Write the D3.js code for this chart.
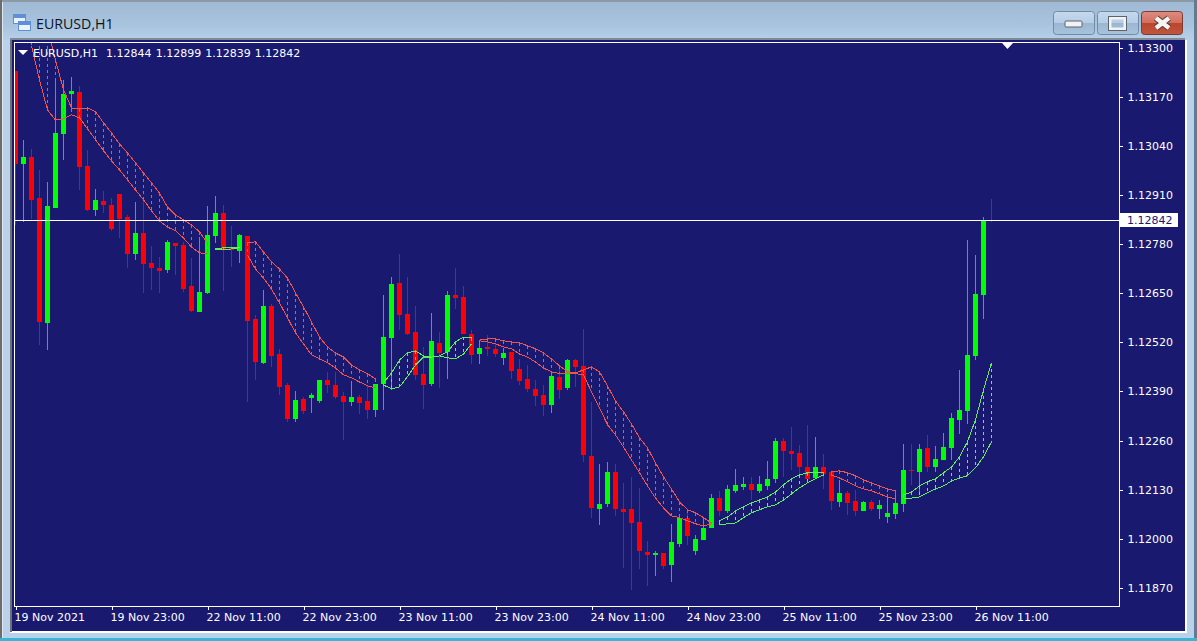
<!DOCTYPE html>
<html><head><meta charset="utf-8">
<script src="https://cdn.jsdelivr.net/npm/d3@7/dist/d3.min.js"></script>
<style>html,body{margin:0;padding:0;background:#b9d1ea;overflow:hidden}svg{display:block}</style>
</head><body><svg id="c" width="1197" height="641"></svg>
<script>
const open=[1.13238,1.12992,1.13011,1.12902,1.12571,1.12876,1.13071,1.13177,1.13183,1.12987,
1.12870,1.12894,1.12884,1.12913,1.12852,1.12754,1.12810,1.12730,1.12717,1.12712,
1.12783,1.12778,1.12669,1.12601,1.12651,1.12802,1.12862,1.12770,1.12762,1.12802,
1.12582,1.12466,1.12616,1.12489,1.12407,1.12317,1.12370,1.12373,1.12365,1.12421,
1.12407,1.12378,1.12362,1.12376,1.12365,1.12341,1.12410,1.12532,1.12677,1.12595,
1.12548,1.12437,1.12410,1.12519,1.12495,1.12645,1.12640,1.12542,1.12489,1.12508,
1.12503,1.12479,1.12495,1.12450,1.12423,1.12397,1.12381,1.12354,1.12429,1.12399,
1.12473,1.12458,1.12220,1.12079,1.12093,1.12177,1.12079,1.12079,1.12045,1.11966,
1.11958,1.11963,1.11931,1.11987,1.12056,1.11968,1.11997,1.12029,1.12108,1.12074,
1.12127,1.12138,1.12145,1.12127,1.12140,1.12159,1.12259,1.12233,1.12227,1.12190,
1.12161,1.12190,1.12177,1.12098,1.12122,1.12100,1.12074,1.12098,1.12079,1.12058,
1.12066,1.12093,1.12182,1.12177,1.12241,1.12190,1.12209,1.12241,1.12315,1.12339,
1.12484,1.12645,1.12844];
const high=[1.13238,1.13056,1.13032,1.12976,1.12944,1.13214,1.13214,1.13222,1.13198,1.13029,
1.12926,1.12921,1.12902,1.12913,1.12857,1.12892,1.12897,1.12775,1.12746,1.12791,
1.12783,1.12786,1.12743,1.12799,1.12881,1.12907,1.12884,1.12828,1.12807,1.12802,
1.12593,1.12659,1.12622,1.12503,1.12413,1.12391,1.12376,1.12386,1.12421,1.12442,
1.12442,1.12389,1.12418,1.12381,1.12405,1.12410,1.12645,1.12693,1.12754,1.12693,
1.12616,1.12508,1.12598,1.12548,1.12656,1.12717,1.12669,1.12553,1.12524,1.12540,
1.12516,1.12505,1.12495,1.12476,1.12460,1.12421,1.12407,1.12442,1.12458,1.12476,
1.12476,1.12556,1.12362,1.12198,1.12204,1.12198,1.12148,1.12164,1.12135,1.11995,
1.11968,1.11963,1.12040,1.12056,1.12079,1.12011,1.12056,1.12119,1.12127,1.12143,
1.12185,1.12164,1.12164,1.12167,1.12206,1.12267,1.12267,1.12296,1.12249,1.12302,
1.12270,1.12225,1.12177,1.12156,1.12127,1.12130,1.12100,1.12103,1.12103,1.12119,
1.12130,1.12251,1.12251,1.12251,1.12275,1.12246,1.12280,1.12333,1.12447,1.12791,
1.12751,1.12852,1.12899];
const low=[1.12831,1.12839,1.12847,1.12513,1.12500,1.12876,1.13003,1.13130,1.12923,1.12868,
1.12854,1.12862,1.12815,1.12796,1.12717,1.12738,1.12651,1.12659,1.12651,1.12704,
1.12698,1.12653,1.12601,1.12601,1.12648,1.12783,1.12656,1.12720,1.12730,1.12362,
1.12421,1.12463,1.12455,1.12381,1.12309,1.12309,1.12331,1.12333,1.12360,1.12386,
1.12370,1.12262,1.12352,1.12331,1.12317,1.12323,1.12341,1.12394,1.12553,1.12540,
1.12421,1.12344,1.12405,1.12399,1.12423,1.12608,1.12542,1.12463,1.12463,1.12484,
1.12481,1.12460,1.12423,1.12407,1.12389,1.12352,1.12325,1.12333,1.12370,1.12394,
1.12402,1.12204,1.12056,1.12037,1.12085,1.12061,1.11923,1.11865,1.11921,1.11876,
1.11902,1.11921,1.11886,1.11979,1.11984,1.11958,1.11997,1.12029,1.12061,1.12069,
1.12122,1.12130,1.12103,1.12122,1.12130,1.12148,1.12164,1.12182,1.12172,1.12151,
1.12159,1.12132,1.12077,1.12085,1.12063,1.12061,1.12074,1.12074,1.12053,1.12042,
1.12053,1.12071,1.12143,1.12116,1.12177,1.12177,1.12209,1.12209,1.12278,1.12304,
1.12473,1.12582,1.12839];
const close=[1.12992,1.13011,1.12897,1.12574,1.12881,1.13074,1.13177,1.13185,1.12984,1.12870,
1.12897,1.12884,1.12820,1.12847,1.12754,1.12810,1.12728,1.12717,1.12709,1.12786,
1.12775,1.12661,1.12603,1.12653,1.12804,1.12862,1.12765,1.12765,1.12804,1.12577,
1.12468,1.12616,1.12484,1.12402,1.12317,1.12368,1.12339,1.12381,1.12421,1.12407,
1.12376,1.12362,1.12376,1.12360,1.12341,1.12410,1.12534,1.12675,1.12593,1.12542,
1.12434,1.12407,1.12524,1.12492,1.12645,1.12638,1.12542,1.12487,1.12505,1.12503,
1.12489,1.12492,1.12444,1.12418,1.12397,1.12378,1.12354,1.12431,1.12394,1.12473,
1.12455,1.12222,1.12082,1.12093,1.12177,1.12079,1.12071,1.12042,1.11968,1.11958,
1.11963,1.11928,1.11992,1.12056,1.12008,1.12000,1.12029,1.12108,1.12074,1.12132,
1.12143,1.12145,1.12130,1.12145,1.12159,1.12259,1.12233,1.12225,1.12190,1.12159,
1.12190,1.12172,1.12100,1.12122,1.12095,1.12074,1.12098,1.12079,1.12090,1.12069,
1.12095,1.12182,1.12180,1.12238,1.12190,1.12212,1.12243,1.12320,1.12341,1.12487,
1.12648,1.12844,1.12842];

// cloud bands, one value per bar from bar index bandFirst
const bandFirst=2;
const hiBand=[1.13505,1.13431,1.13352,1.13267,1.13188,1.13140,1.13138,1.13140,1.13130,1.13101,1.13074,1.13045,1.13021,1.12995,1.12968,1.12942,1.12915,1.12878,1.12857,1.12844,1.12831,1.12812,1.12783,
1.12767,1.12770,1.12770,1.12770,
1.12783,1.12786,1.12759,1.12733,1.12714,1.12690,1.12651,1.12614,1.12574,1.12534,1.12508,1.12492,1.12481,1.12460,1.12447,1.12437,1.12423,
1.12413,1.12439,1.12473,1.12492,1.12497,1.12484,1.12481,1.12484,1.12495,1.12521,1.12534,1.12532,
1.12526,1.12529,1.12529,1.12524,1.12521,1.12519,1.12511,1.12503,1.12492,1.12476,1.12458,1.12442,1.12439,1.12447,1.12455,1.12442,1.12405,1.12365,1.12336,1.12304,1.12267,1.12241,1.12201,1.12164,1.12132,1.12098,1.12077,1.12069,1.12056,1.12042,
1.12048,1.12058,1.12074,1.12085,1.12095,1.12103,1.12111,1.12124,1.12143,1.12159,1.12169,1.12175,1.12175,1.12177,
1.12177,1.12180,1.12175,1.12167,1.12156,1.12148,1.12140,1.12132,1.12127,
1.12116,1.12124,1.12140,1.12151,1.12159,1.12175,1.12190,1.12217,1.12257,1.12315,1.12394,1.12466];
const loBand=[1.13304,1.13214,1.13135,1.13108,1.13111,1.13122,1.13114,1.13085,1.13056,1.13027,1.13000,1.12976,1.12950,1.12923,1.12897,1.12868,1.12841,1.12825,1.12815,1.12796,1.12772,1.12757,1.12754,
1.12765,1.12765,1.12767,1.12770,
1.12751,1.12714,1.12690,1.12661,1.12624,1.12585,1.12545,1.12516,1.12487,1.12476,1.12466,1.12452,1.12434,1.12426,1.12415,1.12405,1.12399,
1.12407,1.12397,1.12402,1.12429,1.12460,1.12481,1.12481,1.12484,1.12479,1.12476,1.12489,1.12516,
1.12524,1.12521,1.12516,1.12508,1.12503,1.12489,1.12481,1.12468,1.12452,1.12442,1.12437,1.12437,1.12437,1.12434,1.12389,1.12347,1.12302,1.12275,1.12243,1.12209,1.12175,1.12140,1.12108,1.12082,1.12061,1.12056,1.12048,1.12040,1.12034,1.12040,
1.12037,1.12040,1.12042,1.12056,1.12069,1.12077,1.12085,1.12090,1.12103,1.12119,1.12135,1.12148,1.12159,1.12169,
1.12169,1.12161,1.12151,1.12140,1.12132,1.12127,1.12119,1.12111,1.12106,
1.12108,1.12108,1.12111,1.12122,1.12132,1.12140,1.12153,1.12161,1.12167,1.12188,1.12217,1.12257];
const segStart=[2,25,29,46,58,88,102,111];
const segEnd=[24,28,45,57,87,101,110,122];
const segTrend=["down","up","down","up","down","up","down","up"];

const priceTicks=[1.133,1.1317,1.1304,1.1291,1.1278,1.1265,1.1252,1.1239,1.1226,1.1213,1.12,1.1187];
const timeIndex=[0,12,24,36,48,60,72,84,96,108,120];
const timeLabels=["19 Nov 2021","19 Nov 23:00","22 Nov 11:00","22 Nov 23:00","23 Nov 11:00","23 Nov 23:00","24 Nov 11:00","24 Nov 23:00","25 Nov 11:00","25 Nov 23:00","26 Nov 11:00"];
const headerText="EURUSD,H1  1.12844 1.12899 1.12839 1.12842";
const bidPrice=1.12842;
const symbol="EURUSD,H1";

const NAVY="#191970",UP="#00ff00",DOWN="#ff0000",UPB="#5fee5f",DOWNB="#f2544c";
const FONT="'DejaVu Sans',sans-serif";
const svg=d3.select("#c");
const defs=svg.append("defs");
function grad(id,stops){const g=defs.append("linearGradient").attr("id",id).attr("x1",0).attr("y1",0).attr("x2",0).attr("y2",1);
 stops.forEach(s=>g.append("stop").attr("offset",s[0]).attr("stop-color",s[1]));}
grad("win",[[0,"#9fb9d3"],[0.6,"#a8c3de"],[1,"#b7d0ea"]]);
grad("btn",[[0,"#c6d9ec"],[0.48,"#b6cde5"],[0.5,"#9bb6d2"],[1,"#a9c3dc"]]);
grad("cls",[[0,"#dd8c80"],[0.48,"#d3705f"],[0.5,"#b9452c"],[1,"#c1573e"]]);
defs.append("clipPath").attr("id","plot").append("rect").attr("x",15).attr("y",43).attr("width",1104).attr("height",563);

// window chrome
svg.append("rect").attr("width",1197).attr("height",641).attr("fill","#b9d1ea");
svg.append("rect").attr("x",0).attr("y",0).attr("width",1197).attr("height",40).attr("fill","url(#win)");
svg.append("rect").attr("x",0).attr("y",0).attr("width",1197).attr("height",2).attr("fill","#8d9aa6");
svg.append("rect").attr("x",0).attr("y",0).attr("width",2).attr("height",641).attr("fill","#6d6d6d");
svg.append("rect").attr("x",2).attr("y",2).attr("width",1).attr("height",639).attr("fill","#dfe9f3");
svg.append("rect").attr("x",1194).attr("y",0).attr("width",3).attr("height",641).attr("fill","#5c7d96");
svg.append("rect").attr("x",0).attr("y",638).attr("width",1197).attr("height",3).attr("fill","#38b6d6");
svg.append("rect").attr("x",10).attr("y",38).attr("width",1175).attr("height",2).attr("fill","#808a94");
svg.append("rect").attr("x",1185).attr("y",40).attr("width",2).attr("height",592).attr("fill","#ffffff");
svg.append("rect").attr("x",10).attr("y",631).attr("width",1177).attr("height",2).attr("fill","#ffffff");
svg.append("rect").attr("x",10).attr("y",40).attr("width",2).attr("height",592).attr("fill","#707070");
svg.append("rect").attr("x",12).attr("y",40).attr("width",1173).attr("height",591).attr("fill",NAVY);

// title icon and text
const ic=svg.append("g").attr("shape-rendering","crispEdges");
[[13.5,14.5],[18.5,21.5]].forEach(p=>{
 ic.append("rect").attr("x",p[0]).attr("y",p[1]).attr("width",12).attr("height",9).attr("fill","#eaf2fb").attr("stroke","#5e8fd8");
 ic.append("rect").attr("x",p[0]).attr("y",p[1]).attr("width",12).attr("height",3).attr("fill","#5e8fd8");
});
svg.append("text").attr("x",36).attr("y",29).attr("font-family","'Open Sans',sans-serif").attr("font-size",14.2).attr("fill","#10141a").text(symbol);

// window buttons
[[1053,"btn"],[1097,"btn"],[1141,"cls"]].forEach(b=>{
 svg.append("rect").attr("x",b[0]+.5).attr("y",11.5).attr("width",41).attr("height",23).attr("rx",3).attr("fill","url(#"+b[1]+")").attr("stroke",b[1]=="cls"?"#7d3a30":"#6f8ba6");
});
svg.append("rect").attr("x",1065).attr("y",21).attr("width",17).attr("height",6).attr("rx",1).attr("fill","#f2f2f2").attr("stroke","#5a6470");
svg.append("rect").attr("x",1110).attr("y",18).attr("width",15).attr("height",11).attr("fill","none").attr("stroke","#f2f2f2").attr("stroke-width",3);
svg.append("rect").attr("x",1108.5).attr("y",16.5).attr("width",18).attr("height",14).attr("fill","none").attr("stroke","#5a6470");
svg.append("path").attr("d","M1156 18L1169 28M1169 18L1156 28").attr("stroke","#5a3a34").attr("stroke-width",6.5);
svg.append("path").attr("d","M1156 18L1169 28M1169 18L1156 28").attr("stroke","#f4f4f4").attr("stroke-width",4.5);

// scales
const x=d3.scaleLinear().domain([0,122]).range([15.5,991.5]);
const y=d3.scaleLinear().domain([1.1187,1.133]).range([588,47.5]);
const py=v=>Math.round(y(v));
const bars=d3.range(open.length);
const isUp=i=>close[i]>=open[i];

const plot=svg.append("g").attr("clip-path","url(#plot)");
const candles=plot.append("g").attr("shape-rendering","crispEdges");
candles.selectAll("line").data(bars).join("line")
 .attr("x1",x).attr("x2",x).attr("y1",i=>py(high[i])).attr("y2",i=>py(low[i]))
 .attr("stroke",i=>isUp(i)?UP:DOWN).attr("stroke-width",1).attr("stroke-opacity",.85);
candles.selectAll("rect").data(bars).join("rect")
 .attr("x",i=>x(i)-2.5).attr("width",5)
 .attr("y",i=>py(Math.max(open[i],close[i])))
 .attr("height",i=>Math.max(1,py(Math.min(open[i],close[i]))-py(Math.max(open[i],close[i]))))
 .attr("fill",i=>isUp(i)?UP:DOWN);

// bands on top of the candles
const hi=i=>hiBand[i-bandFirst],lo=i=>loBand[i-bandFirst];
const line=f=>d3.line().x(x).y(i=>y(f(i)));
segStart.forEach((s,k)=>{
 const idx=d3.range(s,segEnd[k]+1),col=segTrend[k]==="up"?UPB:DOWNB;
 const g=plot.append("g").attr("fill","none").attr("stroke",col).attr("stroke-width",1).attr("shape-rendering","crispEdges");
 g.append("path").attr("d",line(hi)(idx));
 g.append("path").attr("d",line(lo)(idx));
 g.append("g").selectAll("line").data(idx).join("line")
  .attr("x1",x).attr("x2",x).attr("y1",i=>py(hi(i))).attr("y2",i=>py(lo(i))).attr("stroke-dasharray","3 3");
});

// bid line
const bidY=Math.floor(y(bidPrice))+.5;
svg.append("line").attr("x1",15).attr("x2",1119).attr("y1",bidY).attr("y2",bidY)
 .attr("stroke","#fff").attr("shape-rendering","crispEdges");

// frame
svg.append("rect").attr("x",14.5).attr("y",42.5).attr("width",1105).attr("height",564).attr("fill","none").attr("stroke","#fff").attr("shape-rendering","crispEdges");

// axes
const ay=svg.append("g").attr("transform","translate(1119.5,0)")
 .call(d3.axisRight(y).tickValues(priceTicks).tickFormat(d=>d.toFixed(5)).tickSize(3).tickPadding(5));
ay.select(".domain").remove();
const ax=svg.append("g").attr("transform","translate(0,606.5)")
 .call(d3.axisBottom(x).tickValues(timeIndex).tickFormat((d,i)=>timeLabels[i]).tickSize(3).tickPadding(3));
ax.select(".domain").remove();
ax.selectAll("text").attr("text-anchor","start").attr("dy","0.75em").attr("dx",-1.5);
[ay,ax].forEach(a=>{a.selectAll("line").attr("stroke","#fff").attr("shape-rendering","crispEdges");
 a.selectAll("text").attr("fill","#fff").attr("font-family",FONT).attr("font-size",11);});

// bid tag
svg.append("rect").attr("x",1120).attr("y",213).attr("width",58).attr("height",14).attr("fill","#fff");
svg.append("text").attr("x",1127).attr("y",224).attr("fill",NAVY).attr("font-family",FONT).attr("font-size",11).text(bidPrice.toFixed(5));

// header text and markers
svg.append("text").attr("x",33).attr("y",56.5).attr("fill","#fff").attr("font-family",FONT).attr("font-size",11).attr("word-spacing",0.6).attr("xml:space","preserve").text(headerText);
svg.append("path").attr("d","M18 50h10l-5 5z").attr("fill","#fff");
svg.append("path").attr("d","M1002 43h11l-5.5 6z").attr("fill","#fff");
</script></body></html>
